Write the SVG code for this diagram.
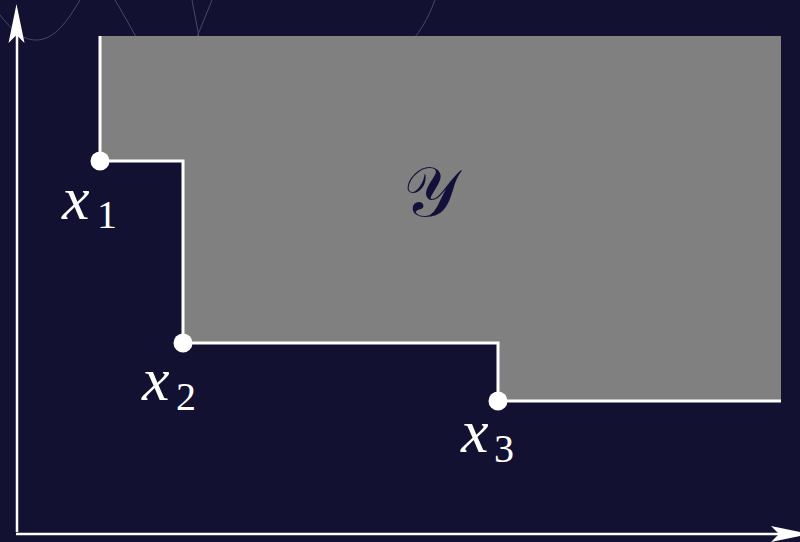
<svg xmlns="http://www.w3.org/2000/svg" width="800" height="542" viewBox="0 0 800 542">
<style>
.faint{fill:none;stroke:#4a4670;stroke-width:1}
.edge{fill:none;stroke:#ffffff;stroke-width:3}
.axis{fill:none;stroke:#ffffff;stroke-width:2.5}
.head{fill:#ffffff}
.dot{fill:#ffffff}
.lbl{font-family:"Liberation Serif","Times New Roman",serif;font-style:italic;font-size:62px;fill:#ffffff}
.sub{font-family:"Liberation Serif","Times New Roman",serif;font-style:normal;font-size:40px;fill:#ffffff}
.ylbl{font-family:"DejaVu Serif","Liberation Serif",serif;font-size:70px;fill:#13113a}
</style>
<rect x="0" y="0" width="800" height="542" fill="#131131"/>
<g id="background-curves">
<path class="faint" d="M0,15 C12,30 22,40 36,40 C55,40 68,20 80,0"/>
<path class="faint" d="M115,0 C122,12 129,24 136,37"/>
<path class="faint" d="M192,0 L199,37 M212,0 L197,37"/>
<path class="faint" d="M435,0 C430,13 424,26 415,37"/>
</g>
<g id="region-Y">
<path d="M100,36 H781 V401 H498 V343 H183 V161 H100 Z" fill="#808080"/>
<text class="ylbl" x="403" y="216">𝒴</text>
</g>
<g id="connectors">
<path class="edge" d="M100,36 V161 H183 V343 H498 V401 H781"/>
</g>
<g id="axes">
<path class="axis" d="M17,532 V30"/>
<path class="head" d="M16.5,4 L24.5,43 L16.5,35 L8.5,43 Z"/>
<path class="axis" d="M16,534 H785"/>
<path class="head" d="M810,534 L771,542 L779,534 L771,526 Z"/>
</g>
<g id="node-x1">
<circle class="dot" cx="100" cy="161" r="9.5"/>
<text x="62" y="219"><tspan class="lbl">x</tspan><tspan class="sub" x="97" y="228">1</tspan></text>
</g>
<g id="node-x2">
<circle class="dot" cx="183" cy="343" r="9.5"/>
<text x="142" y="400"><tspan class="lbl">x</tspan><tspan class="sub" x="176" y="410">2</tspan></text>
</g>
<g id="node-x3">
<circle class="dot" cx="498" cy="401" r="9.5"/>
<text x="461" y="452"><tspan class="lbl">x</tspan><tspan class="sub" x="494" y="462">3</tspan></text>
</g>
</svg>
